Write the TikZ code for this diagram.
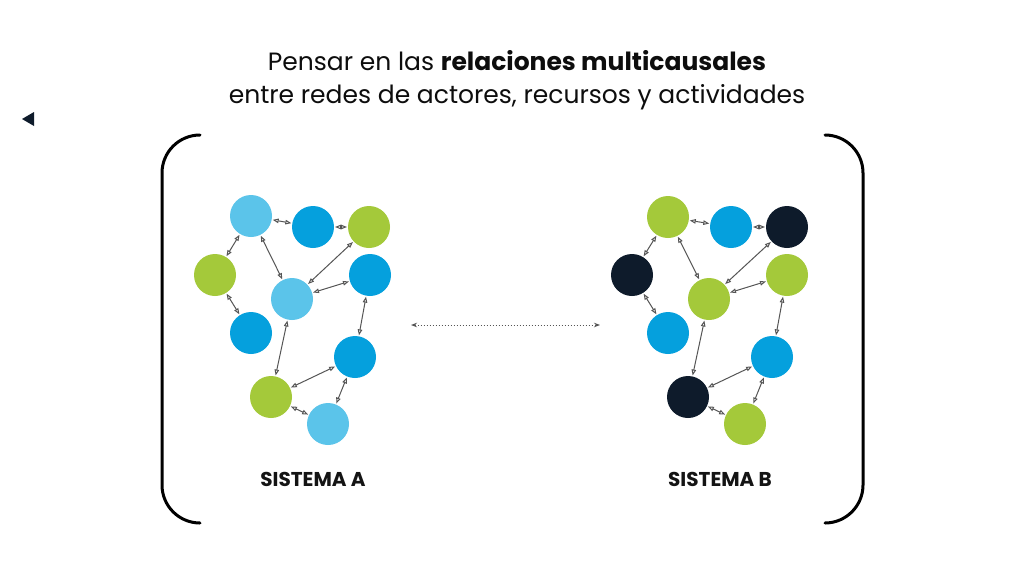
\documentclass[tikz,border=0pt]{standalone}
\usepackage{fontspec}
\setmainfont{Poppins}
\usetikzlibrary{arrows.meta}
\definecolor{lblue}{HTML}{5BC4EA}
\definecolor{mblue}{HTML}{05A0DD}
\definecolor{lgreen}{HTML}{A4C93A}
\definecolor{navy}{HTML}{0E1B2B}
\definecolor{edgegray}{HTML}{555555}
\tikzset{
  dot/.style={circle,minimum size=42pt,inner sep=0pt,outer sep=1pt},
  lb/.style={dot,fill=lblue},
  mb/.style={dot,fill=mblue},
  gr/.style={dot,fill=lgreen},
  dk/.style={dot,fill=navy},
  link/.style={draw=edgegray,line width=1pt,{Triangle[open,length=6pt,width=4.5pt]}-{Triangle[open,length=6pt,width=4.5pt]}},
  brack/.style={line width=3pt,line cap=round,black},
  syslabel/.style={font=\fontsize{20}{24}\selectfont\bfseries,text=black!92}
}
\begin{document}
\begin{tikzpicture}[x=1pt,y=-1pt]
\useasboundingbox[fill=white] (0,0) rectangle (1024,576);
% title
\node[align=center,font=\fontsize{25}{33}\selectfont,text=black!95] (title) at (517,80)
  {Pensar en las \textbf{relaciones multicausales}\\entre redes de actores, recursos y actividades};
% back triangle
\fill[navy] (22,119) -- (34,112) -- (34,126) -- cycle;
% brackets
\draw[brack] (200,135) arc[start angle=-90,end angle=-180,radius=38] -- (162,485) arc[start angle=180,end angle=90,radius=38];
\draw[brack] (825,135) arc[start angle=-90,end angle=0,radius=38] -- (863,485) arc[start angle=0,end angle=90,radius=38];
% system A
\node[lb] (a1) at (251,216) {};
\node[mb] (a2) at (313,227) {};
\node[gr] (a3) at (369,227) {};
\node[gr] (a4) at (215,275) {};
\node[mb] (a5) at (370,275) {};
\node[lb] (a6) at (292,299) {};
\node[mb] (a7) at (251,333) {};
\node[mb] (a8) at (355,357) {};
\node[gr] (a9) at (271,397) {};
\node[lb] (a10) at (328,424) {};
% system B
\node[gr] (b1) at (668,217) {};
\node[mb] (b2) at (731,227) {};
\node[dk] (b3) at (787,227) {};
\node[dk] (b4) at (632,275) {};
\node[gr] (b5) at (787,275) {};
\node[gr] (b6) at (709,299) {};
\node[mb] (b7) at (668,333) {};
\node[mb] (b8) at (772,357) {};
\node[dk] (b9) at (688,397) {};
\node[gr] (b10) at (745,424) {};
\foreach \s in {a,b}{
  \draw[link] (\s1) -- (\s2);
  \draw[link] (\s2) -- (\s3);
  \draw[link] (\s1) -- (\s4);
  \draw[link] (\s1) -- (\s6);
  \draw[link] (\s4) -- (\s7);
  \draw[link] (\s3) -- (\s6);
  \draw[link] (\s5) -- (\s6);
  \draw[link] (\s5) -- (\s8);
  \draw[link] (\s6) -- (\s9);
  \draw[link] (\s8) -- (\s9);
  \draw[link] (\s8) -- (\s10);
  \draw[link] (\s9) -- (\s10);
}
% dotted link between systems
\coordinate (pl) at (411,325);
\coordinate (pr) at (600,325);
\draw[edgegray,line width=1pt,dotted,{Stealth[length=6pt,width=4.5pt]}-{Stealth[length=6pt,width=4.5pt]}] (pl) -- (pr);
% labels
\node[syslabel] (la) at (313,479) {SISTEMA A};
\node[syslabel] (lbl) at (720,479) {SISTEMA B};
\end{tikzpicture}
\end{document}
